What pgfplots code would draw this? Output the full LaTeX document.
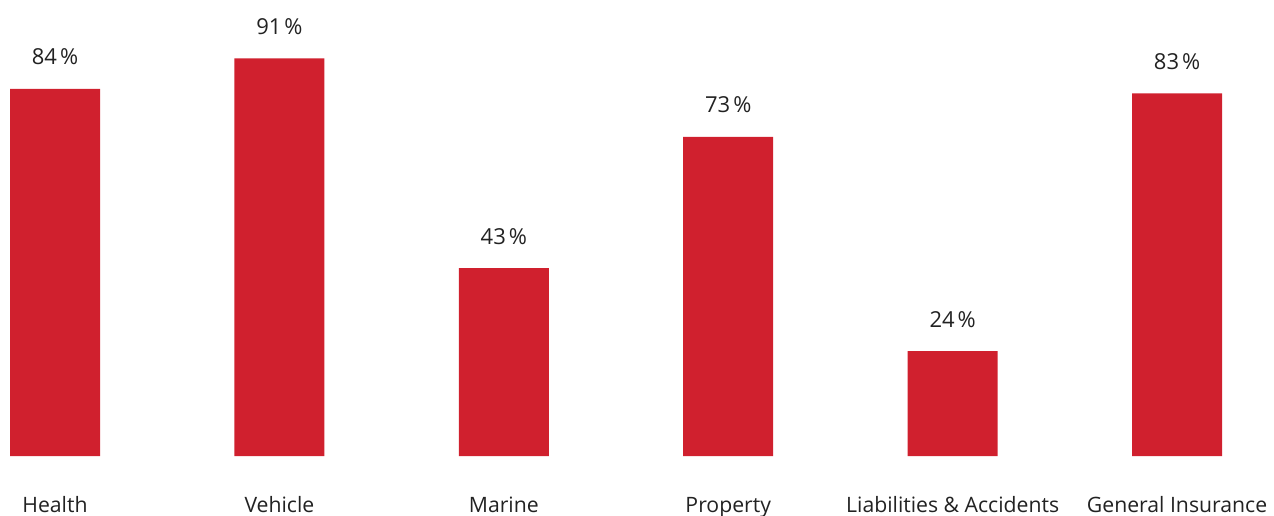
\documentclass[border=0pt]{standalone}
\usepackage{fontspec}
\setmainfont{Open Sans}
\usepackage{pgfplots}
\pgfplotsset{compat=1.18}
\definecolor{barred}{HTML}{D0202E}
\definecolor{txt}{HTML}{222222}
\begin{document}
\begin{tikzpicture}
\begin{axis}[
  scale only axis,
  width=637pt, height=257.5pt,
  xmin=-0.2451, xmax=5.432,
  ymin=-13.5, ymax=104.35,
  axis line style={draw=none},
  tick style={draw=none},
  ytick=\empty,
  xtick={0,1,2,3,4,5},
  xticklabels={Health,Vehicle,Marine,Property,Liabilities \& Accidents,General Insurance},
  xticklabel style={anchor=base, yshift=5.7pt, font=\fontsize{10.6}{12}\selectfont, text=txt},
  ybar, bar width=45pt, bar shift=0pt,
  nodes near coords={\pgfmathprintnumber[assume math mode=true]{\pgfplotspointmeta}\kern1.5pt\%},
  nodes near coords style={anchor=base, yshift=12pt, inner sep=0pt, font=\fontsize{11}{12}\selectfont, text=txt},
  clip=false,
]
\addplot[fill=barred, draw=none] coordinates {(0,84) (1,91) (2,43) (3,73) (4,24) (5,83)};
\end{axis}
\pgfresetboundingbox
\path[use as bounding box] (current axis.south west) rectangle (current axis.north east);
\end{tikzpicture}
\end{document}
